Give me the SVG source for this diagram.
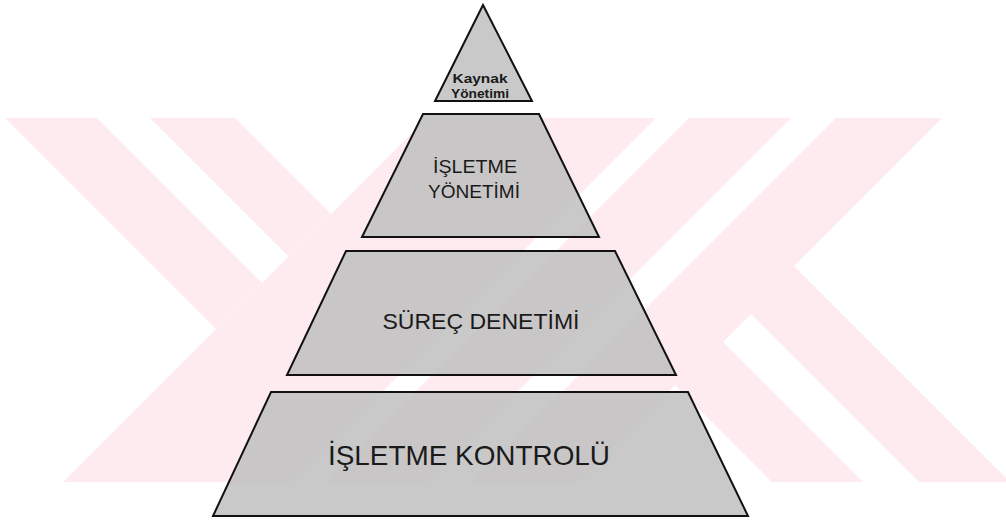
<svg xmlns="http://www.w3.org/2000/svg" width="1006" height="522" viewBox="0 0 1006 522">
<style>
.tier{fill:#c0c0c0;fill-opacity:0.86;stroke:#111;stroke-width:2;stroke-linejoin:miter}
.lbl{font-family:"Liberation Sans",Arial,sans-serif;fill:#1a1a1a;text-anchor:middle}
.wm{fill:#fdebef}
</style>
<rect width="1006" height="522" fill="#ffffff"/>
<g id="watermark">
<polygon class="wm" points="5,118 97,118 262,283 288.5,256.5 150,118 235,118 331,214 216,329"/>
<polygon class="wm" points="427,118 656,118 292,482 63,482"/>
<polygon class="wm" points="689,118 791,118 427,482 325,482"/>
<polygon class="wm" points="836,118 942,118 578,482 472,482"/>
<polygon class="wm" points="675,385 794,266 1010,482 919,482 751,314 723,342 863,482 772,482"/>
</g>
<g id="pyramid">
<g id="tier-kaynak-yonetimi">
<polygon class="tier" points="483,5 532,101 435,101"/>
<text class="lbl" x="480" y="83" font-size="13" font-weight="bold" textLength="55" lengthAdjust="spacingAndGlyphs">Kaynak</text>
<text class="lbl" x="480" y="98" font-size="13" font-weight="bold" textLength="58" lengthAdjust="spacingAndGlyphs">Yönetimi</text>
</g>
<g id="tier-isletme-yonetimi">
<polygon class="tier" points="423,114 539,114 599,237 362,237"/>
<text class="lbl" x="475" y="173" font-size="18" textLength="84" lengthAdjust="spacingAndGlyphs">İŞLETME</text>
<text class="lbl" x="474" y="198" font-size="18" textLength="92" lengthAdjust="spacingAndGlyphs">YÖNETİMİ</text>
</g>
<g id="tier-surec-denetimi">
<polygon class="tier" points="346,251 615,251 676,375 287,375"/>
<text class="lbl" x="481" y="329" font-size="22" textLength="197" lengthAdjust="spacingAndGlyphs">SÜREÇ DENETİMİ</text>
</g>
<g id="tier-isletme-kontrolu">
<polygon class="tier" points="271,392 688,392 748,516 213,516"/>
<text class="lbl" x="469" y="465" font-size="28" textLength="282" lengthAdjust="spacingAndGlyphs">İŞLETME KONTROLÜ</text>
</g>
</g>
<g id="connectors"/>
</svg>
